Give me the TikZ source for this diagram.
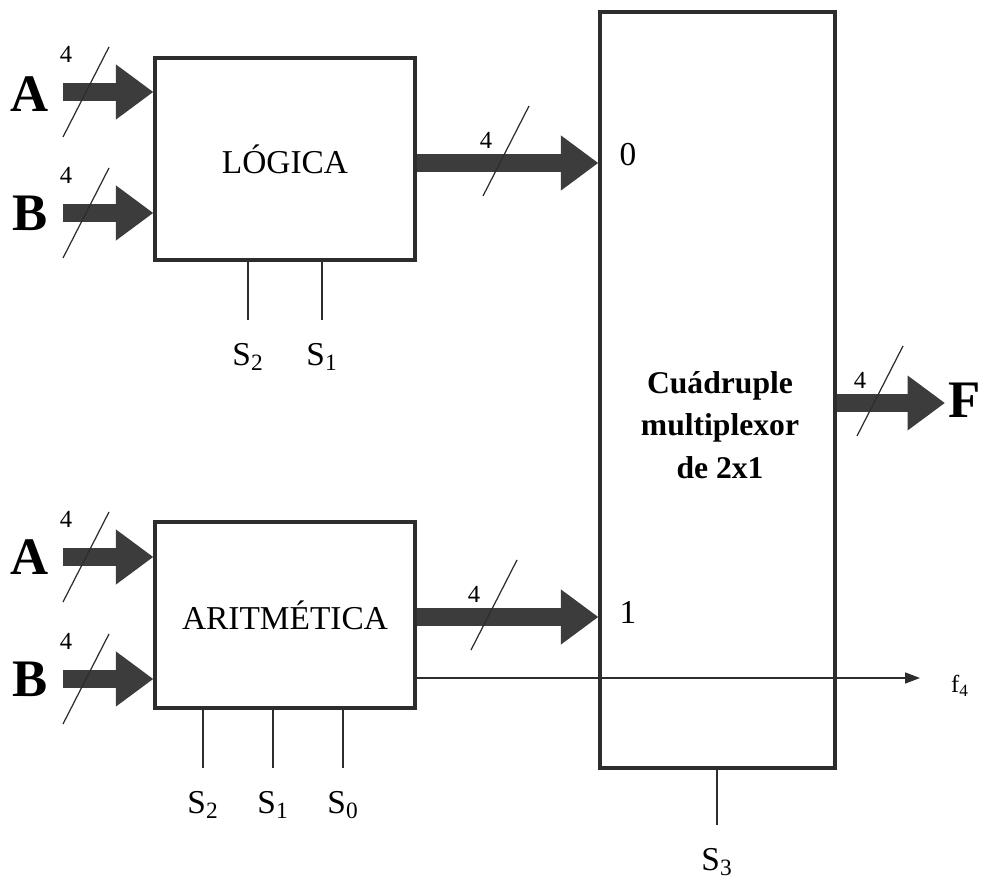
\documentclass[tikz,border=0pt]{standalone}
\usepackage{fontspec}
\setmainfont{Liberation Serif}
\usepackage{xcolor}
\definecolor{busGray}{RGB}{60,60,60}
\definecolor{lineGray}{RGB}{45,45,45}
\usetikzlibrary{arrows.meta,positioning,calc}

\begin{document}
\begin{tikzpicture}[
    blk/.style={rectangle, draw=lineGray, line width=1.8pt, inner sep=0pt},
    bus/.style={draw=busGray, line width=10pt,
                -{Triangle[length=0.75cm, width=1.05cm]}},
    ctrl/.style={draw=lineGray, line width=0.8pt, shorten >=0.42cm},
    slash/.style={draw=lineGray, line width=0.7pt},
    port/.style={font=\fontsize{30}{32}\selectfont\bfseries, inner sep=0pt},
    sel/.style={font=\fontsize{19}{21}\selectfont, inner sep=1pt},
    numlbl/.style={font=\fontsize{14}{15}\selectfont, inner sep=0pt},
    pics/buswidth/.style={code={
        \draw[slash] (-0.46,-0.9) -- (0.46,0.9);
        \node[numlbl] at (-0.4,#1) {4};
    }}
  ]
  \useasboundingbox (0,0) rectangle (19.98,17.58);

  % blocks
  \node[blk, minimum width=5.2cm, minimum height=4.04cm] (logica) at (5.7,14.4)
       {\fontsize{19}{21}\selectfont LÓGICA};
  \node[blk, minimum width=5.2cm, minimum height=3.72cm] (arit) at (5.7,5.28)
       {\fontsize{19}{21}\selectfont ARITMÉTICA};
  \node[blk, minimum width=4.7cm, minimum height=15.12cm] (mux) at (14.35,9.78) {};
  \node[font=\fontsize{18}{24}\selectfont\bfseries, align=center] (muxtxt)
       at (14.4,9.08) {Cuádruple\\multiplexor\\de 2x1};

  % inputs
  \node[port] (a1) at (0.6,15.7) {A};
  \node[port] (b1) at (0.6,13.32) {B};
  \node[port] (a2) at (0.6,6.44) {A};
  \node[port] (b2) at (0.6,4.0) {B};
  \coordinate (ina1) at (1.26,15.74);
  \coordinate (inb1) at (1.26,13.32);
  \coordinate (ina2) at (1.26,6.44);
  \coordinate (inb2) at (1.26,4.0);
  \draw[bus] (ina1) -- (ina1 -| logica.west);
  \draw[bus] (inb1) -- (inb1 -| logica.west);
  \draw[bus] (ina2) -- (ina2 -| arit.west);
  \draw[bus] (inb2) -- (inb2 -| arit.west);
  \pic at (1.72,15.74) {buswidth=0.76};
  \pic at (1.72,13.32) {buswidth=0.76};
  \pic at (1.72,6.44) {buswidth=0.76};
  \pic at (1.72,4.0) {buswidth=0.76};

  % to the multiplexer
  \coordinate (outl) at (logica.east |- 0,14.32);
  \coordinate (outa) at (arit.east |- 0,5.24);
  \draw[bus] (outl) -- (outl -| mux.west);
  \draw[bus] (outa) -- (outa -| mux.west);
  \pic at (10.12,14.56) {buswidth=0.22};
  \pic at (9.88,5.48) {buswidth=0.22};
  \node[sel] (in0) at (12.56,14.48) {0};
  \node[sel] (in1) at (12.56,5.34) {1};

  % output
  \node[port] (f) at (19.3,9.58) {F};
  \coordinate (outm) at (mux.east |- 0,9.52);
  \draw[bus] (outm) -- (18.9,9.52);
  \pic at (17.6,9.76) {buswidth=0.22};

  % carry
  \node[numlbl] (f4) at (19.2,3.86) {f\textsubscript{4}};
  \coordinate (cout) at (arit.east |- 0,4.02);
  \draw[draw=lineGray, line width=0.9pt, -{Triangle[length=0.3cm, width=0.22cm]}]
       (cout) -- (18.4,4.02);

  % select lines
  \node[sel] (ls2) at (4.96,10.44) {S\textsubscript{2}};
  \node[sel] (ls1) at (6.44,10.44) {S\textsubscript{1}};
  \node[sel] (as2) at (4.06,1.48) {S\textsubscript{2}};
  \node[sel] (as1) at (5.46,1.48) {S\textsubscript{1}};
  \node[sel] (as0) at (6.86,1.48) {S\textsubscript{0}};
  \node[sel] (ms3) at (14.34,0.34) {S\textsubscript{3}};
  \draw[ctrl] (logica.south -| ls2) -- (ls2.north);
  \draw[ctrl] (logica.south -| ls1) -- (ls1.north);
  \draw[ctrl] (arit.south -| as2) -- (as2.north);
  \draw[ctrl] (arit.south -| as1) -- (as1.north);
  \draw[ctrl] (arit.south -| as0) -- (as0.north);
  \draw[ctrl] (mux.south -| ms3) -- (ms3.north);
\end{tikzpicture}
\end{document}
